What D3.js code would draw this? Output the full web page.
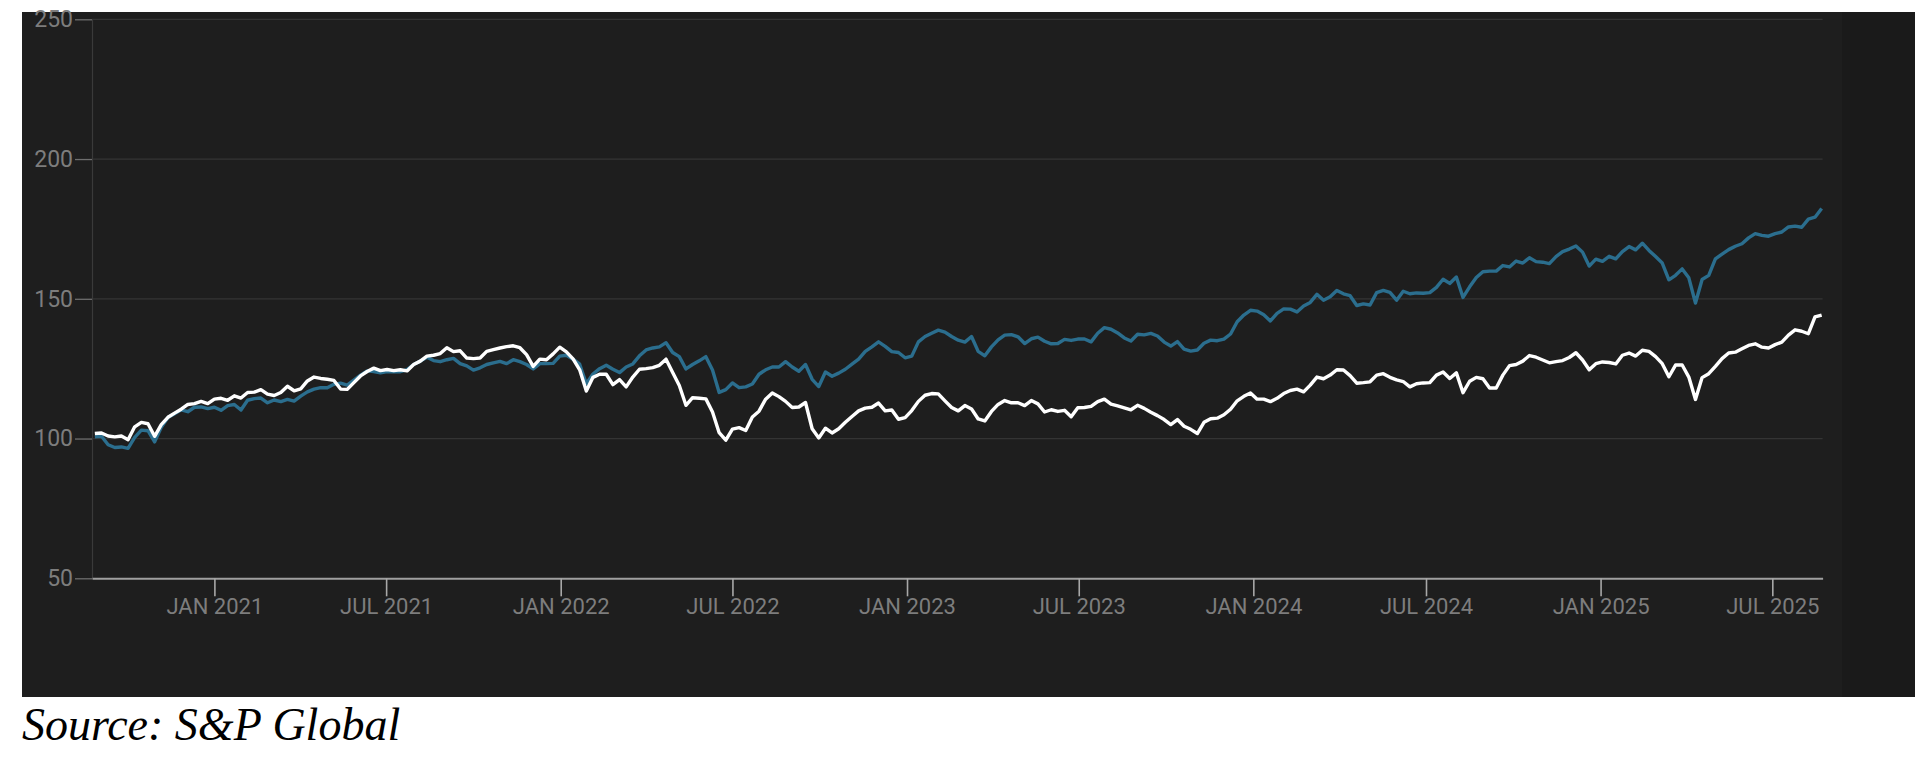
<!DOCTYPE html>
<html><head><meta charset="utf-8">
<script src="https://cdn.jsdelivr.net/npm/d3@7"></script>
<style>
html,body{margin:0;padding:0;background:#fff;}
svg{display:block;}
</style></head>
<body>
<svg id="chart" width="1930" height="758"></svg>
<script>
// ---- data ----
const firstWeek = "2020-08-28";   // weekly (Friday) observations
const lastWeek  = "2025-08-22";

const blueSeries = [
100.6,100.8,97.8,96.8,97.0,96.5,100.4,103.0,102.8,98.8,
104.0,107.5,108.9,110.3,109.6,111.2,111.3,110.7,111.2,110.1,
111.8,112.2,110.2,113.7,114.3,114.5,112.8,113.8,113.2,114.0,
113.4,115.2,116.7,117.7,118.2,118.2,119.4,119.8,119.1,120.9,
122.7,124.2,124.0,123.5,124.0,123.9,123.9,124.7,126.5,127.7,
129.1,127.9,127.5,128.2,128.7,126.8,126.0,124.5,125.3,126.5,
127.1,127.6,126.8,128.2,127.5,126.5,124.9,126.8,126.8,126.9,
129.5,129.8,128.4,126.6,119.6,123.1,125.0,126.2,124.8,123.6,
125.6,126.7,129.6,131.7,132.4,132.8,134.3,130.8,129.3,124.9,
126.5,127.8,129.3,124.5,116.5,117.5,119.9,118.2,118.5,119.5,
123.0,124.6,125.6,125.6,127.5,125.6,124.1,126.5,121.2,118.6,
123.8,122.3,123.4,124.8,126.6,128.4,131.2,132.8,134.6,133.0,
131.1,130.8,128.9,129.5,134.6,136.5,137.7,138.8,138.1,136.5,
135.2,134.5,136.5,131.2,129.6,132.8,135.3,137.0,137.2,136.4,
134.0,135.7,136.3,134.8,133.9,134.0,135.5,135.1,135.6,135.6,
134.6,137.7,139.7,139.1,137.8,136.0,134.9,137.3,137.1,137.6,
136.7,134.5,133.1,134.7,132.0,131.3,131.7,134.1,135.2,135.0,
135.6,137.4,141.8,144.2,145.9,145.6,144.3,142.1,144.8,146.4,
146.3,145.3,147.4,148.7,151.6,149.5,150.7,153.0,151.8,151.1,
147.6,148.2,147.8,152.2,153.0,152.3,149.5,152.7,151.8,152.1,
152.0,152.2,154.1,157.0,155.5,157.8,150.5,154.3,157.6,159.7,
159.9,159.9,161.9,161.4,163.5,162.8,164.7,163.3,163.1,162.6,
165.1,166.9,167.8,168.9,166.7,161.7,164.2,163.4,165.2,164.3,
166.9,168.7,167.5,169.9,167.3,165.1,162.8,156.8,158.4,160.7,
157.5,148.5,156.9,158.4,164.3,166.0,167.6,168.8,169.7,171.8,
173.3,172.7,172.4,173.3,173.9,175.7,176.0,175.6,178.5,179.2,
182.3
];

const whiteSeries = [
101.8,102.0,100.9,100.6,100.9,99.6,104.2,105.8,105.3,100.8,
105.0,107.6,109.1,110.5,112.2,112.5,113.3,112.5,114.1,114.4,
113.7,115.3,114.5,116.5,116.6,117.5,115.9,115.4,116.5,118.7,
117.1,117.8,120.6,122.0,121.5,121.2,120.8,117.7,117.6,120.0,
122.4,124.0,125.2,124.3,124.7,124.3,124.6,124.2,126.5,127.7,
129.5,129.8,130.4,132.5,131.1,131.4,128.8,128.6,128.8,131.2,
131.8,132.4,132.9,133.2,132.5,130.0,125.8,128.4,128.2,130.3,
132.7,131.0,128.5,124.6,117.0,121.9,123.0,123.0,119.3,121.1,
118.5,122.0,124.8,125.0,125.4,126.2,128.4,123.6,119.0,111.9,
114.6,114.4,114.2,109.5,102.1,99.4,103.4,103.9,102.9,107.7,
109.8,114.1,116.3,115.0,113.3,111.1,111.3,112.9,103.5,100.2,
103.7,102.0,103.5,105.8,107.9,109.9,110.9,111.2,112.7,109.9,
110.2,106.9,107.5,110.0,113.3,115.5,116.1,116.0,113.5,111.1,
109.9,111.8,110.6,107.0,106.3,109.7,112.2,113.6,112.8,112.8,
111.8,113.6,112.4,109.5,110.3,109.7,110.1,107.8,111.0,111.1,
111.5,113.2,114.1,112.3,111.7,111.0,110.3,111.9,110.8,109.4,
108.2,106.8,105.0,106.8,104.4,103.3,101.8,105.8,107.1,107.3,
108.5,110.5,113.5,115.1,116.3,114.1,114.1,113.2,114.4,116.1,
117.2,117.7,116.7,119.1,122.0,121.4,122.7,124.6,124.5,122.5,
119.8,120.0,120.3,122.7,123.2,121.9,121.0,120.4,118.5,119.6,
119.9,120.0,122.7,123.8,121.5,123.5,116.4,120.5,121.9,121.4,
118.1,118.1,122.7,126.1,126.5,127.7,129.7,129.1,128.1,127.1,
127.5,127.9,129.0,130.7,128.1,124.6,126.8,127.4,127.2,126.7,
129.8,130.6,129.5,131.6,131.2,129.3,126.8,122.1,126.3,126.3,
122.0,114.0,121.8,123.2,125.8,128.6,130.6,130.9,132.1,133.3,
133.9,132.7,132.4,133.6,134.5,137.0,138.9,138.4,137.5,143.5,
144.2
];

const yTickValues = [50, 100, 150, 200, 250];
const yTickLabels = ["50", "100", "150", "200", "250"];
const xTickDates = ["2021-01-01","2021-07-01","2022-01-01","2022-07-01","2023-01-01",
                    "2023-07-01","2024-01-01","2024-07-01","2025-01-01","2025-07-01"];
const xTickLabels = ["JAN 2021","JUL 2021","JAN 2022","JUL 2022","JAN 2023",
                     "JUL 2023","JAN 2024","JUL 2024","JAN 2025","JUL 2025"];
const xDomain = ["2020-08-25", "2025-08-23"];
const sourceText = "Source: S&P Global";

// ---- drawing ----
const parse = d3.utcParse("%Y-%m-%d");
const dates = d3.utcFriday.range(parse(firstWeek), d3.utcDay.offset(parse(lastWeek), 1));

const svg = d3.select("#chart");

// dark panel
svg.append("rect").attr("x", 22).attr("y", 12).attr("width", 1893).attr("height", 685).attr("fill", "#1e1e1e");
svg.append("rect").attr("x", 1842).attr("y", 12).attr("width", 73).attr("height", 685).attr("fill", "#1a1a1a");

const x = d3.scaleUtc().domain(xDomain.map(parse)).range([92, 1822.6]);
const y = d3.scaleLinear().domain([50, 250]).range([578.3, 19.3]);

// gridlines
svg.append("g").selectAll("line")
  .data(yTickValues.filter(v => v > 50))
  .join("line")
  .attr("x1", 92).attr("x2", 1822.6)
  .attr("y1", d => y(d)).attr("y2", d => y(d))
  .attr("stroke", "#343434").attr("stroke-width", 1.3);

// y axis
const yAxis = svg.append("g").attr("transform", "translate(92,0)")
  .call(d3.axisLeft(y).tickValues(yTickValues).tickFormat((d, i) => yTickLabels[i])
        .tickSize(17).tickSizeOuter(0).tickPadding(2));
yAxis.select(".domain").attr("stroke", "#3a3a3a").attr("stroke-width", 1.2);
yAxis.selectAll(".tick line").attr("stroke", "#6e6e6e").attr("stroke-width", 1.3);
yAxis.selectAll(".tick text")
  .attr("fill", "#7d7d7d").style("font-family", "Roboto, 'Noto Sans', sans-serif")
  .style("font-size", "23px");

// lines
const line = d3.line().x((d, i) => x(dates[i])).y(d => y(d));
svg.append("path").datum(blueSeries).attr("d", line)
  .attr("fill", "none").attr("stroke", "#2b6e8e").attr("stroke-width", 3.4)
  .attr("stroke-linejoin", "round");
svg.append("path").datum(whiteSeries).attr("d", line)
  .attr("fill", "none").attr("stroke", "#ffffff").attr("stroke-width", 3.4)
  .attr("stroke-linejoin", "round");

// x axis
const xAxis = svg.append("g").attr("transform", "translate(0,578.3)")
  .call(d3.axisBottom(x).tickValues(xTickDates.map(parse)).tickFormat((d, i) => xTickLabels[i])
        .tickSize(18).tickSizeOuter(0).tickPadding(2));
xAxis.select(".domain").attr("stroke", "#a0a0a0").attr("stroke-width", 2);
xAxis.selectAll(".tick line").attr("stroke", "#a8a8a8").attr("stroke-width", 1.6);
xAxis.selectAll(".tick text")
  .attr("fill", "#7d7d7d").style("font-family", "Roboto, 'Noto Sans', sans-serif")
  .style("font-size", "22px");

// source
svg.append("text").attr("x", 22).attr("y", 740)
  .style("font-family", "'Liberation Serif', 'Times New Roman', serif")
  .style("font-style", "italic").style("font-size", "46px")
  .attr("fill", "#000").text(sourceText);
</script>
</body></html>
